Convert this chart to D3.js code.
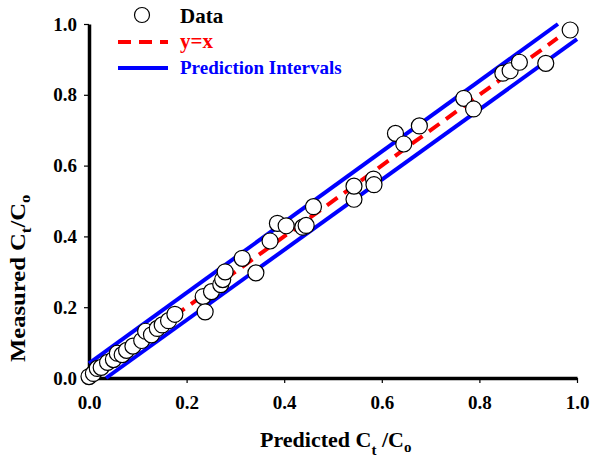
<!DOCTYPE html>
<html>
<head>
<meta charset="utf-8">
<script src="https://cdn.jsdelivr.net/npm/d3@7"></script>
<style>
  html, body { margin: 0; padding: 0; background: #fff; }
  svg { display: block; font-family: "Liberation Serif", "Times New Roman", serif; font-weight: bold; }
</style>
</head>
<body>
<svg id="chart" width="591" height="460"></svg>
<script>
// ---- data ----
const predicted = [0.000, 0.009, 0.017, 0.025, 0.038, 0.050, 0.058, 0.068, 0.077, 0.090,
  0.108, 0.116, 0.128, 0.140, 0.150, 0.163, 0.176, 0.234, 0.238, 0.251,
  0.270, 0.274, 0.279, 0.314, 0.342, 0.371, 0.386, 0.404, 0.438, 0.445,
  0.460, 0.543, 0.543, 0.583, 0.584, 0.628, 0.645, 0.677, 0.768, 0.788,
  0.848, 0.863, 0.882, 0.936, 0.986];
const measured = [0.004, 0.013, 0.027, 0.030, 0.044, 0.052, 0.070, 0.066, 0.078, 0.090,
  0.106, 0.132, 0.122, 0.140, 0.150, 0.162, 0.180, 0.230, 0.187, 0.244,
  0.264, 0.278, 0.300, 0.338, 0.297, 0.387, 0.437, 0.430, 0.426, 0.431,
  0.484, 0.505, 0.542, 0.562, 0.546, 0.691, 0.661, 0.712, 0.790, 0.760,
  0.861, 0.868, 0.892, 0.889, 0.983];
const identityLine = [[0, 0], [0.96, 0.96]];
const upperInterval = [[0, 0.041], [0.961, 1.0]];
const lowerInterval = [[0.035, 0], [1.0, 0.957]];
const xTicks = [0, 0.2, 0.4, 0.6, 0.8, 1.0];
const yTicks = [0, 0.2, 0.4, 0.6, 0.8, 1.0];
const legendLabels = ["Data", "y=x", "Prediction Intervals"];

// ---- drawing ----
const svg = d3.select("#chart");
const x = d3.scaleLinear().domain([0, 1]).range([89, 577]);
const y = d3.scaleLinear().domain([0, 1]).range([378, 24]);

const line = d3.line().x(d => x(d[0])).y(d => y(d[1]));

// axes
const xAxis = svg.append("g").attr("transform", `translate(0,${y(0)})`)
  .call(d3.axisBottom(x).tickValues(xTicks).tickFormat(d3.format(".1f"))
    .tickSize(5).tickSizeOuter(0).tickPadding(13));
const yAxis = svg.append("g").attr("transform", `translate(${x(0)},0)`)
  .call(d3.axisLeft(y).tickValues(yTicks).tickFormat(d3.format(".1f"))
    .tickSize(5).tickSizeOuter(0).tickPadding(7));
[xAxis, yAxis].forEach(g => {
  g.select(".domain").attr("stroke", "#000").attr("stroke-width", 3.5);
  g.selectAll(".tick line").attr("stroke", "#000").attr("stroke-width", 1.2);
  g.selectAll(".tick text").attr("fill", "#000")
    .style("font-family", '"Liberation Serif", serif')
    .style("font-weight", "bold").style("font-size", "19px");
});

// lines
svg.append("path").attr("d", line(upperInterval))
  .attr("stroke", "#0000ff").attr("stroke-width", 4).attr("fill", "none");
svg.append("path").attr("d", line(lowerInterval))
  .attr("stroke", "#0000ff").attr("stroke-width", 4).attr("fill", "none");
svg.append("path").attr("d", line(identityLine))
  .attr("stroke", "#ff0000").attr("stroke-width", 4).attr("fill", "none")
  .attr("stroke-dasharray", "13,8");

// points
svg.append("g").selectAll("circle")
  .data(predicted.map((p, i) => [p, measured[i]]))
  .join("circle")
  .attr("cx", d => x(d[0])).attr("cy", d => y(d[1])).attr("r", 8)
  .attr("fill", "#fff").attr("stroke", "#000").attr("stroke-width", 1.2);

// legend
const lg = svg.append("g");
lg.append("circle").attr("cx", 142).attr("cy", 15).attr("r", 7.5)
  .attr("fill", "#fff").attr("stroke", "#000").attr("stroke-width", 1.2);
lg.append("line").attr("x1", 118).attr("x2", 168).attr("y1", 42).attr("y2", 42)
  .attr("stroke", "#ff0000").attr("stroke-width", 4).attr("stroke-dasharray", "13,8");
lg.append("line").attr("x1", 118).attr("x2", 168).attr("y1", 68).attr("y2", 68)
  .attr("stroke", "#0000ff").attr("stroke-width", 4);
const legendColors = ["#000", "#ff0000", "#0000ff"];
const legendY = [23, 48, 74];
const legendSize = ["21px", "21px", "19px"];
legendLabels.forEach((t, i) => {
  lg.append("text").attr("x", 180).attr("y", legendY[i]).attr("fill", legendColors[i])
    .style("font-size", legendSize[i]).text(t);
});

// x-axis title
const xt = svg.append("text").attr("x", 260).attr("y", 447).attr("fill", "#000")
  .style("font-size", "22px");
xt.append("tspan").text("Predicted C");
xt.append("tspan").attr("dy", 8).style("font-size", "15px").text("t");
xt.append("tspan").attr("dy", -8).text(" /C");
xt.append("tspan").attr("dy", 5).style("font-size", "15px").text("o");

// y-axis title
const yt = svg.append("text").attr("transform", "translate(25,362) rotate(-90) scale(1.12,1)")
  .attr("fill", "#000").style("font-size", "22px");
yt.append("tspan").text("Measured C");
yt.append("tspan").attr("dy", 6).style("font-size", "15px").text("t");
yt.append("tspan").attr("dy", -6).text("/C");
yt.append("tspan").attr("dy", 5).style("font-size", "15px").text("o");
</script>
</body>
</html>
